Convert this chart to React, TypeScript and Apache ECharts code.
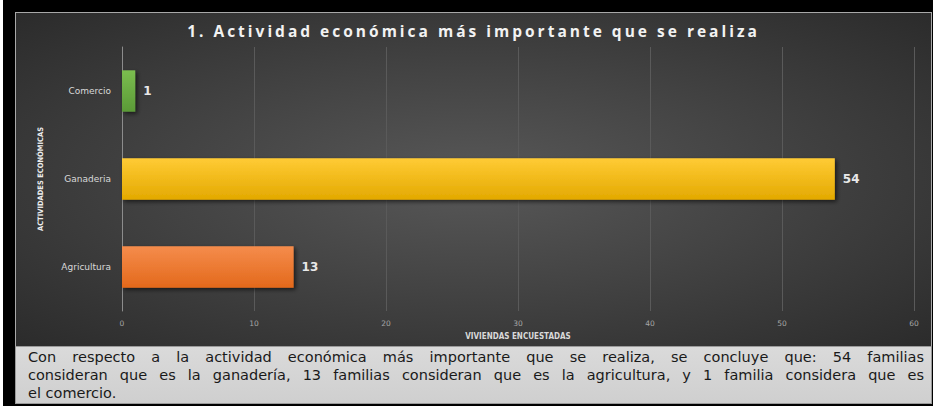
import React, { useEffect, useRef } from 'react';
import * as echarts from 'echarts';

const categories = ['Agricultura', 'Ganaderia', 'Comercio'];
const values = [13, 54, 1];
const barTopColors = ['#f58c4c', '#ffcb35', '#7bbd4f'];
const barBottomColors = ['#e3691b', '#e3a900', '#5b9a37'];
const xMin = 0;
const xMax = 60;
const xInterval = 10;
const titleText = '1. Actividad económica más importante que se realiza';
const xAxisTitle = 'VIVIENDAS ENCUESTADAS';
const yAxisTitle = 'ACTIVIDADES ECONÓMICAS';
const captionLines = [
  'Con respecto a la actividad económica más importante que se realiza, se concluye que: 54 familias',
  'consideran que es la ganadería, 13 familias consideran que es la agricultura, y 1 familia considera que es',
  'el comercio.',
];

export default function App() {
  const ref = useRef<HTMLDivElement>(null);

  useEffect(() => {
    if (!ref.current) return;
    const chart = echarts.init(ref.current, null, { renderer: 'svg' });
    chart.setOption({
      animation: false,
      backgroundColor: 'transparent',
      title: {
        text: titleText,
        left: 'center',
        top: 5,
        textStyle: {
          color: '#f2f2f2',
          fontSize: 15.5,
          fontWeight: 'bold',
          fontFamily: "'Open Sans'",
        },
      },
      grid: { left: 106, right: 17, top: 34, bottom: 36 },
      xAxis: {
        type: 'value',
        min: xMin,
        max: xMax,
        interval: xInterval,
        name: xAxisTitle,
        nameLocation: 'middle',
        nameGap: 21,
        nameTextStyle: {
          color: '#d9d9d9',
          fontSize: 8,
          fontWeight: 'bold',
          fontFamily: "'Liberation Sans Narrow', 'DejaVu Sans Condensed', sans-serif",
        },
        axisLine: { show: false },
        axisTick: { show: false },
        axisLabel: { color: '#a6a6a6', fontSize: 7.5, margin: 8, fontFamily: 'DejaVu Sans' },
        splitLine: { show: true, lineStyle: { color: '#5a5a5a', width: 1 } },
      },
      yAxis: {
        type: 'category',
        data: categories,
        name: yAxisTitle,
        nameLocation: 'middle',
        nameRotate: 90,
        nameGap: 78,
        nameTextStyle: {
          color: '#ececec',
          fontSize: 7.5,
          fontWeight: 'bold',
          fontFamily: "'Liberation Sans Narrow', 'DejaVu Sans Condensed', sans-serif",
        },
        axisLine: { show: true, lineStyle: { color: '#8c8c8c', width: 1 } },
        axisTick: { show: false },
        axisLabel: { color: '#d9d9d9', fontSize: 9, margin: 11, fontFamily: 'DejaVu Sans' },
        splitLine: { show: false },
      },
      series: [
        {
          type: 'bar',
          barWidth: '47%',
          data: values.map((v, i) => ({
            value: v,
            itemStyle: {
              color: {
                type: 'linear',
                x: 0,
                y: 0,
                x2: 0,
                y2: 1,
                colorStops: [
                  { offset: 0, color: barTopColors[i] },
                  { offset: 1, color: barBottomColors[i] },
                ],
              },
              shadowColor: 'rgba(0,0,0,0.6)',
              shadowBlur: 4,
              shadowOffsetX: 2,
              shadowOffsetY: 2,
            },
          })),
          label: {
            show: true,
            position: 'right',
            distance: 8,
            color: '#e8e8e8',
            fontSize: 12,
            fontWeight: 'bold',
            fontFamily: 'DejaVu Sans',
          },
        },
      ],
    });
    return () => chart.dispose();
  }, []);

  return (
    <div style={{ position: 'absolute', left: 0, top: 0, width: 933, height: 411, background: '#ffffff', overflow: 'hidden' }}>
      <style>{`text[style*="Open Sans"] { letter-spacing: 3px; }`}</style>
      <div style={{ position: 'absolute', left: 3, top: 0, width: 930, height: 406, background: '#000000' }} />
      <div
        style={{
          position: 'absolute',
          left: 15,
          top: 12,
          width: 915,
          height: 334,
          border: '1px solid #a8a8a8',
          borderBottom: 'none',
          background: 'radial-gradient(ellipse at 50% 50%, #585858 0%, #444444 45%, #2b2b2b 100%)',
        }}
      >
        <div ref={ref} style={{ width: 915, height: 334 }} />
      </div>
      <div
        style={{
          position: 'absolute',
          left: 15,
          top: 346,
          width: 896,
          height: 55,
          padding: '1px 7px 0 12px',
          border: '1px solid #9a9a9a',
          background: 'linear-gradient(#dadada, #cfcfcf)',
          color: '#1a1a1a',
          fontFamily: "'DejaVu Sans', sans-serif",
          fontSize: 14.5,
          lineHeight: '18px',
        }}
      >
        {captionLines.map((line, i) => (
          <div
            key={i}
            style={{
              whiteSpace: 'nowrap',
              height: 18,
              textAlign: i < captionLines.length - 1 ? 'justify' : 'left',
              textAlignLast: i < captionLines.length - 1 ? 'justify' : 'left',
            }}
          >
            {line}
          </div>
        ))}
      </div>
    </div>
  );
}
